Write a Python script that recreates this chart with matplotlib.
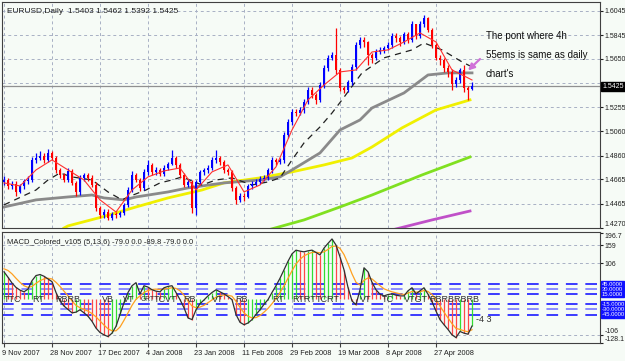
import matplotlib
matplotlib.use("Agg")
import matplotlib.pyplot as plt
import numpy as np

# ---- price data, bar i is one trading day
closes = [1.4661, 1.4611, 1.4627, 1.4562, 1.4611, 1.4652, 1.4661, 1.4824, 1.4840, 1.4857,
          1.4824, 1.4881, 1.4840, 1.4742, 1.4701, 1.4661, 1.4734, 1.4636, 1.4562, 1.4677,
          1.4701, 1.4677, 1.4619, 1.4431, 1.4374, 1.4398, 1.4349, 1.4382, 1.4374, 1.4390,
          1.4456, 1.4578, 1.4701, 1.4661, 1.4595, 1.4726, 1.4783, 1.4726, 1.4742, 1.4709,
          1.4758, 1.4791, 1.4840, 1.4783, 1.4701, 1.4619, 1.4644, 1.4431, 1.4644, 1.4726,
          1.4742, 1.4758, 1.4824, 1.4840, 1.4808, 1.4742, 1.4726, 1.4595, 1.4497, 1.4529,
          1.4521, 1.4611, 1.4627, 1.4644, 1.4668, 1.4677, 1.4742, 1.4824, 1.4808, 1.4824,
          1.5029, 1.5135, 1.5217, 1.5209, 1.5233, 1.5299, 1.5396, 1.5355, 1.5315, 1.5437,
          1.5576, 1.5658, 1.5683, 1.5560, 1.5413, 1.5396, 1.5462, 1.5584, 1.5764, 1.5805,
          1.5789, 1.5683, 1.5658, 1.5707, 1.5724, 1.5740, 1.5764, 1.5838, 1.5822, 1.5789,
          1.5854, 1.5805, 1.5936, 1.5838, 1.5936, 1.5985, 1.5887, 1.5764, 1.5658, 1.5642,
          1.5576, 1.5544, 1.5445, 1.5478, 1.5560, 1.5413, 1.5400, 1.5425]
opens = [1.4640, 1.4661, 1.4611, 1.4627, 1.4562, 1.4611, 1.4652, 1.4661, 1.4824, 1.4840,
         1.4857, 1.4824, 1.4881, 1.4840, 1.4742, 1.4701, 1.4661, 1.4734, 1.4636, 1.4562,
         1.4677, 1.4701, 1.4677, 1.4619, 1.4431, 1.4374, 1.4398, 1.4349, 1.4382, 1.4374,
         1.4390, 1.4456, 1.4578, 1.4701, 1.4661, 1.4595, 1.4726, 1.4783, 1.4726, 1.4742,
         1.4709, 1.4758, 1.4791, 1.4840, 1.4783, 1.4701, 1.4619, 1.4644, 1.4431, 1.4644,
         1.4726, 1.4742, 1.4758, 1.4824, 1.4840, 1.4808, 1.4742, 1.4726, 1.4595, 1.4497,
         1.4529, 1.4521, 1.4611, 1.4627, 1.4644, 1.4668, 1.4677, 1.4742, 1.4824, 1.4808,
         1.4824, 1.5029, 1.5135, 1.5217, 1.5209, 1.5233, 1.5299, 1.5396, 1.5355, 1.5315,
         1.5437, 1.5576, 1.5658, 1.5683, 1.5560, 1.5413, 1.5396, 1.5462, 1.5584, 1.5764,
         1.5805, 1.5789, 1.5683, 1.5658, 1.5707, 1.5724, 1.5740, 1.5764, 1.5838, 1.5822,
         1.5789, 1.5854, 1.5805, 1.5936, 1.5838, 1.5936, 1.5985, 1.5887, 1.5764, 1.5658,
         1.5642, 1.5576, 1.5544, 1.5445, 1.5478, 1.5560, 1.5413, 1.5403]
highs = [1.4690, 1.4680, 1.4650, 1.4650, 1.4630, 1.4670, 1.4690, 1.4850, 1.4880, 1.4900,
         1.4880, 1.4910, 1.4900, 1.4860, 1.4760, 1.4720, 1.4760, 1.4750, 1.4650, 1.4700,
         1.4720, 1.4720, 1.4700, 1.4640, 1.4450, 1.4420, 1.4420, 1.4400, 1.4400, 1.4410,
         1.4470, 1.4600, 1.4730, 1.4720, 1.4680, 1.4750, 1.4820, 1.4800, 1.4770, 1.4760,
         1.4780, 1.4810, 1.4906, 1.4860, 1.4800, 1.4720, 1.4670, 1.4660, 1.4660, 1.4740,
         1.4760, 1.4780, 1.4850, 1.4906, 1.4860, 1.4820, 1.4760, 1.4740, 1.4610, 1.4550,
         1.4550, 1.4630, 1.4650, 1.4670, 1.4690, 1.4700, 1.4760, 1.4850, 1.4840, 1.4840,
         1.5050, 1.5160, 1.5240, 1.5240, 1.5260, 1.5320, 1.5420, 1.5420, 1.5370, 1.5460,
         1.5600, 1.5680, 1.5710, 1.5903, 1.5580, 1.5430, 1.5480, 1.5610, 1.5790, 1.5830,
         1.5830, 1.5800, 1.5700, 1.5730, 1.5750, 1.5760, 1.5790, 1.5860, 1.5860, 1.5840,
         1.5870, 1.5870, 1.5960, 1.5940, 1.5960, 1.6010, 1.5990, 1.5900, 1.5780, 1.5680,
         1.5660, 1.5600, 1.5570, 1.5500, 1.5580, 1.5600, 1.5430, 1.5462]
lows = [1.4620, 1.4590, 1.4590, 1.4530, 1.4550, 1.4590, 1.4630, 1.4640, 1.4800, 1.4820,
        1.4800, 1.4810, 1.4820, 1.4720, 1.4680, 1.4640, 1.4640, 1.4620, 1.4530, 1.4540,
        1.4650, 1.4650, 1.4600, 1.4410, 1.4350, 1.4350, 1.4330, 1.4330, 1.4350, 1.4360,
        1.4370, 1.4440, 1.4560, 1.4640, 1.4570, 1.4580, 1.4700, 1.4700, 1.4700, 1.4690,
        1.4690, 1.4740, 1.4780, 1.4760, 1.4680, 1.4600, 1.4600, 1.4390, 1.4374, 1.4620,
        1.4700, 1.4720, 1.4740, 1.4800, 1.4780, 1.4720, 1.4700, 1.4570, 1.4464, 1.4480,
        1.4490, 1.4510, 1.4590, 1.4610, 1.4630, 1.4650, 1.4660, 1.4720, 1.4780, 1.4790,
        1.4800, 1.5000, 1.5110, 1.5180, 1.5190, 1.5210, 1.5280, 1.5330, 1.5280, 1.5300,
        1.5410, 1.5550, 1.5640, 1.5530, 1.5390, 1.5370, 1.5380, 1.5440, 1.5560, 1.5740,
        1.5750, 1.5600, 1.5620, 1.5640, 1.5690, 1.5700, 1.5720, 1.5740, 1.5790, 1.5760,
        1.5770, 1.5780, 1.5790, 1.5810, 1.5820, 1.5910, 1.5870, 1.5740, 1.5640, 1.5600,
        1.5540, 1.5500, 1.5400, 1.5420, 1.5450, 1.5380, 1.5315, 1.5392]

# moving averages, sampled at bar indices
ma_red_x = [0, 4, 8, 12, 16, 20, 24, 28, 32, 36, 40, 44, 48, 52, 56, 60, 64, 68, 72, 76,
            80, 84, 88, 92, 96, 100, 104, 108, 112, 116, 117]
ma_red = [1.4636, 1.4611, 1.4742, 1.4824, 1.4742, 1.4660, 1.4497, 1.4398, 1.4578, 1.4685,
          1.4734, 1.4758, 1.4578, 1.4726, 1.4783, 1.4562, 1.4619, 1.4767, 1.5069, 1.5315,
          1.5437, 1.5544, 1.5560, 1.5707, 1.5724, 1.5789, 1.5863, 1.5789, 1.5560, 1.5495, 1.5478]
ma_black_x = [0, 8, 11, 14, 17, 22, 26, 29.5, 31, 35.5, 39, 42, 44.5, 49.5, 53, 57, 62, 66,
              69, 72, 75, 79, 82, 84.5, 89.5, 95, 102, 105, 109.5, 114.5, 116.5]
ma_black = [1.4456, 1.4578, 1.4660, 1.4717, 1.4685, 1.4660, 1.4562, 1.4497, 1.4521, 1.4578,
            1.4636, 1.4660, 1.4685, 1.4619, 1.4660, 1.4677, 1.4619, 1.4644, 1.4677, 1.4824,
            1.4963, 1.5094, 1.5208, 1.5315, 1.5536, 1.5659, 1.5724, 1.5781, 1.5724, 1.5626, 1.5593]
ma_gray_x = [0, 8, 16, 22, 25, 30, 33, 41, 46, 55, 64, 69, 72, 79, 84, 89, 92, 100, 106, 111, 117]
ma_gray = [1.4439, 1.4497, 1.4521, 1.4537, 1.4513, 1.4497, 1.4521, 1.4562, 1.4595, 1.4636,
           1.4660, 1.4685, 1.4742, 1.4881, 1.5069, 1.5151, 1.5249, 1.5372, 1.5519, 1.5536, 1.5536]
ma_yellow_x = [15, 16, 24.5, 33, 41, 49.5, 55, 64, 72, 80, 87, 92, 99.5, 108, 116.5]
ma_yellow = [1.4267, 1.4284, 1.4357, 1.4439, 1.4513, 1.4578, 1.4636, 1.4677, 1.4726, 1.4783,
             1.4840, 1.4930, 1.5086, 1.5233, 1.5315]
ma_green_x = [66, 75, 84, 92, 104.5, 116.5]
ma_green = [1.4251, 1.4333, 1.4439, 1.4537, 1.4701, 1.4848]
ma_magenta_x = [97, 107, 116.5]
ma_magenta = [1.4251, 1.4333, 1.4406]

# MACD (5,13,6) in points
macd = [81, 65, 48, 35, 27, 22, 30, 55, 70, 73, 68, 60, 52, 20, -5, -20, -30, -40, -38, -31,
        -40, -50, -65, -85, -98, -105, -110, -100, -80, -45, -10, 20, 40, 49, 16, 40, 36, 28, 24, 22,
        34, 38, 40, 20, -1, -25, -55, -60, -31, -13, -2, 10, 20, 28, 22, 16, 8, -1, -45, -68,
        -75, -70, -60, -45, -31, -15, -1, 20, 40, 62, 87, 112, 134, 145, 142, 140, 143, 145, 138, 131,
        151, 165, 178, 160, 125, 87, 35, -5, -16, 28, 93, 81, 50, 28, 15, 10, 14, 16, 12, 10,
        10, 25, 34, 16, 25, 34, 15, -7, -35, -60, -75, -89, -105, -113, -95, -100, -103, -79]
signal = [90, 85, 75, 62, 50, 40, 35, 38, 47, 55, 60, 62, 60, 50, 38, 24, 10, -5, -18, -25,
          -30, -35, -42, -52, -64, -76, -87, -93, -93, -82, -62, -40, -18, 0, 10, 20, 26, 29, 30, 29,
          30, 32, 34, 32, 25, 12, -5, -20, -25, -23, -18, -10, -2, 6, 11, 13, 12, 9, -6, -24,
          -40, -50, -55, -54, -48, -38, -27, -13, 2, 20, 40, 62, 84, 104, 118, 128, 134, 138, 139, 137,
          140, 147, 156, 157, 150, 132, 105, 75, 50, 42, 56, 63, 60, 50, 40, 31, 26, 22, 19, 16,
          14, 18, 23, 21, 22, 26, 23, 14, -1, -20, -38, -55, -72, -86, -89, -93, -96, -89.8]
levels = [45, 30, 15, -15, -30, -45]

signal_tags = [(2, "TTC", 6.5), (8.5, "RT", 6.5), (16, "RBRB", 6.5), (26, "VB", 6.5),
               (31.3, "VT", 6.5), (36, "GRT", 4.8), (40.5, "TCVT", 6.5), (46.5, "RB", 6.5),
               (53.5, "VT", 6.5), (59.5, "RB", 6.5), (68.5, "RT", 6.5), (75, "RTRT", 6.5),
               (81, "TCRT", 6.5), (90.5, "VT", 6.5), (96, "TC", 6.5), (103, "VTGT", 6.5),
               (112.5, "RBRBRBRB", 6.5)]

date_pos = [0, 12, 24, 36, 48, 60, 72, 84, 96, 108]
date_labels = ["9 Nov 2007", "28 Nov 2007", "17 Dec 2007", "4 Jan 2008", "23 Jan 2008",
               "11 Feb 2008", "29 Feb 2008", "19 Mar 2008", "8 Apr 2008", "27 Apr 2008"]
price_ticks = [1.6045, 1.5845, 1.5650, 1.5255, 1.5060, 1.4860, 1.4665, 1.4465, 1.4270]
macd_ticks = [196.7, 159, 106, -106, -128.1]

bg = "#f6fbf6"
gridc = "#a8b0c4"
plt.rcParams['font.family'] = ['Liberation Sans', 'DejaVu Sans']
rfs = 5  # right-hand axis label size

fig = plt.figure(figsize=(6.25, 3.61), dpi=100, facecolor=bg)
ax = fig.add_axes([2 / 625, 133 / 361, 598 / 625, 226 / 361], facecolor=bg)
ax2 = fig.add_axes([2 / 625, 18 / 361, 598 / 625, 111.5 / 361], facecolor=bg)

xs = np.arange(len(closes))
for a in (ax, ax2):
    a.set_xlim(-0.5, 149)
    for v in date_pos:
        a.axvline(v, color=gridc, lw=0.7, ls=(0, (3, 3)), zorder=0)
    for s in a.spines.values():
        s.set_color("#404040")
        s.set_linewidth(0.8)
    a.tick_params(axis="x", bottom=False, labelbottom=False)

# ---- price pane
ax.set_ylim(1.4267, 1.6116)
for p in price_ticks + [1.5455]:
    ax.axhline(p, color=gridc, lw=0.7, ls=(0, (3, 3)), zorder=0)
ax.axhline(closes[-1], color="#909090", lw=0.9, zorder=1)

ax.plot(ma_magenta_x, ma_magenta, color="#c050c8", lw=2, zorder=2)
ax.plot(ma_green_x, ma_green, color="#80e020", lw=2, zorder=2)
ax.plot(ma_yellow_x, ma_yellow, color="#f0f000", lw=2, zorder=2)
ax.plot(ma_gray_x, ma_gray, color="#8a8a8a", lw=2, zorder=2)
ax.plot(ma_black_x, ma_black, color="#202020", lw=0.9, ls=(0, (5, 4)), zorder=3)

cols = ["#0000ff" if c >= o else "#ff0000" for o, c in zip(opens, closes)]
ax.vlines(xs, lows, highs, colors=cols, lw=0.9, zorder=4)
body_lo = np.minimum(opens, closes)
body_h = np.maximum(np.abs(np.array(closes) - np.array(opens)), 0.0004)
ax.bar(xs, body_h, bottom=body_lo, width=0.7, color=cols, lw=0, zorder=4)
ax.plot(ma_red_x, ma_red, color="#ff3030", lw=0.8, zorder=5)

ax.yaxis.tick_right()
ax.set_yticks(price_ticks)
ax.set_yticklabels([f"{p:.4f}" for p in price_ticks])
ax.tick_params(axis="y", labelsize=rfs, length=2, pad=1.5, colors="#202020")
ax.get_yticklabels()[-1].set_va("bottom")
ax.text(1.004, closes[-1], f"{closes[-1]:.4f}", transform=ax.get_yaxis_transform(),
        fontsize=rfs, color="white", va="center", ha="left",
        bbox=dict(boxstyle="square,pad=0.2", fc="black", ec="black"))

ax.text(0.008, 0.975, "EURUSD,Daily  1.5403 1.5462 1.5392 1.5425", transform=ax.transAxes,
        fontsize=6, va="top", ha="left", color="#202020")
ax.text(120.5, 1.5680, "The pont where 4h\n55ems is same as daily\nchart's", fontsize=7,
        va="center", ha="left", color="#101010", linespacing=2.1)
ax.annotate("", xy=(115.5, 1.5540), xytext=(119.5, 1.5665),
            arrowprops=dict(arrowstyle="-|>", color="#d070d8", lw=1.6, mutation_scale=9))

# ---- MACD pane
ax2.set_ylim(-129, 200)
for v in [159, 106, -106]:
    ax2.axhline(v, color=gridc, lw=0.7, ls=(0, (3, 3)), zorder=0)
for lv in levels:
    c = "#3a3aff" if abs(lv) != 30 else "#8c8cff"
    ax2.axhline(lv, color=c, lw=1.4, ls=(0, (6, 4)), zorder=1)

hcols = ["#33dd33" if i > 0 and macd[i] >= macd[i - 1] else "#ff4848" for i in range(len(macd))]
hcols[0] = "#33dd33"
ax2.vlines(xs, 0, macd, colors=hcols, lw=0.9, zorder=2)
ax2.plot(xs, signal, color="#ffa020", lw=0.9, zorder=3)
ax2.plot(xs, macd, color="#303030", lw=0.9, zorder=4)

for x, t, fs in signal_tags:
    ax2.text(x, 0, t, fontsize=fs, ha="center", va="center", color="#303030", zorder=5)
ax2.text(118, -60, "-4 3", fontsize=6.5, ha="left", va="center", color="#303030")

ax2.yaxis.tick_right()
ax2.set_yticks(macd_ticks)
ax2.set_yticklabels(["196.7", "159", "106", "-106", "-128.1"])
ax2.tick_params(axis="y", labelsize=rfs, length=2, pad=1.5, colors="#202020")
ylabs = ax2.get_yticklabels()
ylabs[0].set_va("top")
ylabs[3].set_va("bottom")
ylabs[4].set_va("bottom")
# level boxes on the right edge
for lv in levels:
    ax2.text(1.003, lv, f"{lv:.4f}", transform=ax2.get_yaxis_transform(), fontsize=4.2,
             color="white", va="center", ha="left",
             bbox=dict(boxstyle="square,pad=0.12", fc="#1010ff", ec="#1010ff"))
ax2.text(0.008, 0.93, "MACD_Colored_v105 (5,13,6) -79.0 0.0 -89.8 -79.0 0.0",
         transform=ax2.transAxes, fontsize=5.5, va="top", ha="left", color="#202020")

# date labels
ax2.tick_params(axis="x", bottom=True, length=3, color="#404040")
ax2.set_xticks(date_pos)
for v, lab in zip(date_pos, date_labels):
    ax2.text(v - 0.4, -0.06, lab, transform=ax2.get_xaxis_transform(), fontsize=5.3,
             ha="left", va="top", color="#202020")

fig.savefig("out.png", dpi=100, facecolor=bg)
